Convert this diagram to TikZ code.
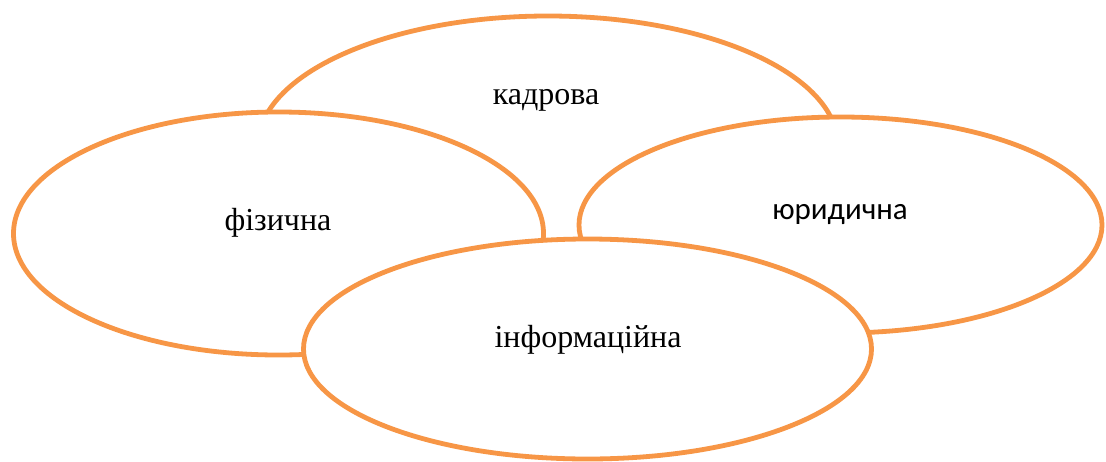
\documentclass[tikz,border=0pt]{standalone}
\usepackage{fontspec}
\setmainfont{Liberation Serif}
\newfontfamily\carlito{Carlito}
\usetikzlibrary{shapes.geometric}
\definecolor{accorange}{HTML}{F79646}
\begin{document}
\begin{tikzpicture}[x=1pt,y=-1pt,
  ell/.style={ellipse,draw=accorange,line width=4.8pt,fill=white,inner sep=0pt,outer sep=0pt},
  lbl/.style={font=\fontsize{32}{38}\selectfont,inner sep=0pt,anchor=base}]
\useasboundingbox (0,0) rectangle (1106,461);
\node[ell,minimum width=580pt,minimum height=260pt] (kadr) at (548,146) {};
\node[ell,minimum width=530pt,minimum height=243pt] (fiz) at (278.5,233.5) {};
\node[ell,minimum width=523pt,minimum height=216pt] (yur) at (840.5,225) {};
\node[ell,minimum width=568pt,minimum height=220pt] (inf) at (587.5,349) {};
\node[lbl] (tkadr) at (546,104) {кадрова};
\node[lbl] (tfiz) at (278,230) {фізична};
\node[lbl,font=\carlito\fontsize{31}{37}\selectfont] (tyur) at (840,219.5) {юридична};
\node[lbl] (tinf) at (588,347) {інформаційна};
\end{tikzpicture}
\end{document}
